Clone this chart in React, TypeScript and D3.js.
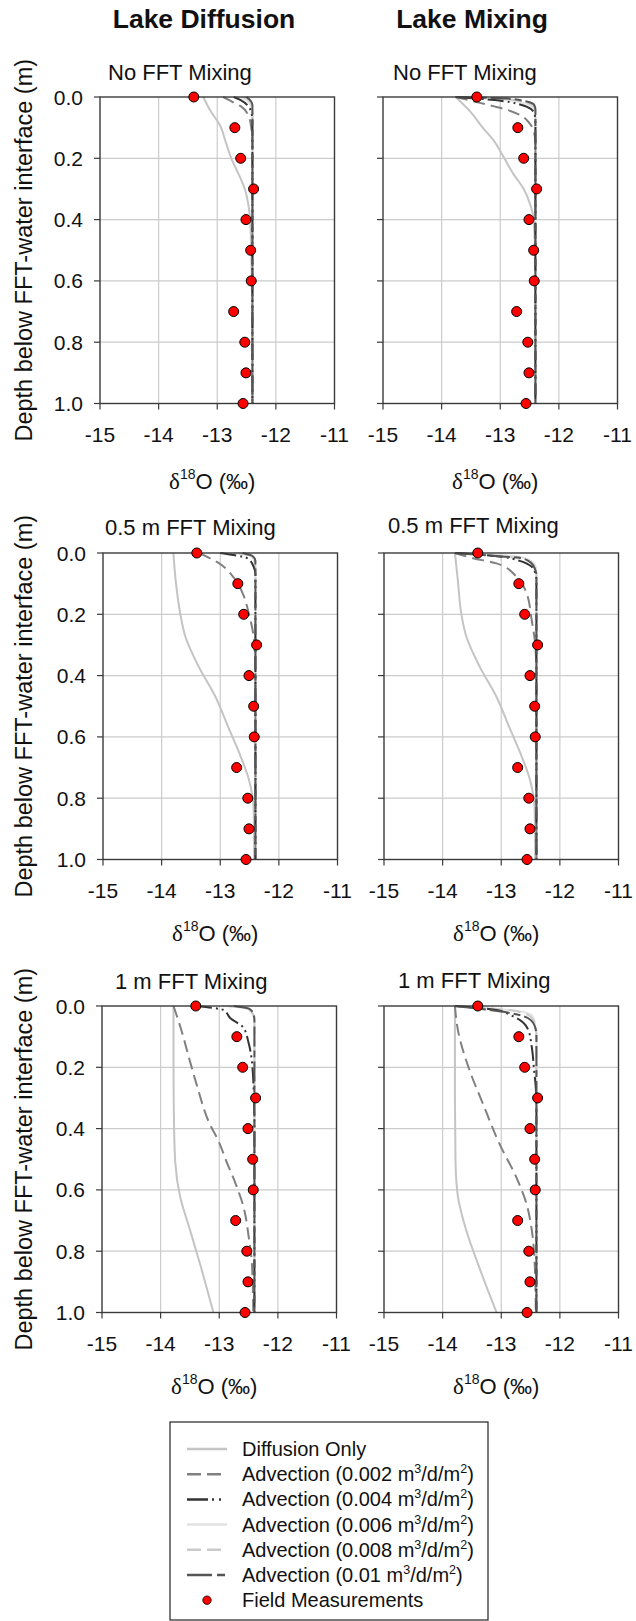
import React from 'react';
import * as d3 from 'd3';

type Pt = [number, number]; // [depth (m), δ18O (‰)]

// ---------- axis / text data ----------
const xTicks = [-15, -14, -13, -12, -11];
const yTicks = [0, 0.2, 0.4, 0.6, 0.8, 1.0];
const xGrid = [-14, -13, -12];
const yGrid = [0.2, 0.4, 0.6, 0.8];
const columnTitles = ['Lake Diffusion', 'Lake Mixing'];
const rowTitles = ['No FFT Mixing', '0.5 m FFT Mixing', '1 m FFT Mixing'];
const advectionRates = ['0.002', '0.004', '0.006', '0.008', '0.01'];

// ---------- field measurements ----------
const fieldDepth = [0, 0.1, 0.2, 0.3, 0.4, 0.5, 0.6, 0.7, 0.8, 0.9, 1.0];
const fieldO18 = [-13.4, -12.7, -12.6, -12.38, -12.51, -12.43, -12.42, -12.72, -12.53, -12.51, -12.56];

// ---------- model profiles: Lake Diffusion, No FFT Mixing ----------
const ldNo_diff: Pt[] = [[0, -13.24], [0.05, -13.1], [0.09, -12.96], [0.15, -12.85], [0.2, -12.76], [0.25, -12.64], [0.3, -12.53], [0.35, -12.47], [0.4, -12.44], [0.5, -12.42], [0.6, -12.41], [1, -12.4]];
const ldNo_a002: Pt[] = [[0, -12.9], [0.015, -12.75], [0.03, -12.6], [0.06, -12.47], [0.1, -12.42], [0.15, -12.4], [1, -12.4]];
const ldNo_a004: Pt[] = [[0, -12.72], [0.01, -12.6], [0.03, -12.47], [0.05, -12.42], [0.08, -12.4], [1, -12.4]];
const ldNo_a006: Pt[] = [[0, -12.6], [0.01, -12.5], [0.03, -12.42], [0.05, -12.4], [1, -12.4]];
const ldNo_a008: Pt[] = [[0, -12.55], [0.01, -12.46], [0.03, -12.41], [0.05, -12.4], [1, -12.4]];
const ldNo_a010: Pt[] = [[0, -12.5], [0.01, -12.44], [0.025, -12.4], [1, -12.4]];

// ---------- Lake Mixing, No FFT Mixing ----------
const lmNo_diff: Pt[] = [[0, -13.76], [0.05, -13.5], [0.1, -13.3], [0.14, -13.12], [0.2, -12.93], [0.25, -12.78], [0.3, -12.6], [0.35, -12.49], [0.4, -12.43], [0.5, -12.41], [1, -12.4]];
const lmNo_a002: Pt[] = [[0, -13.76], [0.02, -13.33], [0.042, -12.88], [0.06, -12.65], [0.086, -12.5], [0.11, -12.43], [0.15, -12.4], [1, -12.4]];
const lmNo_a004: Pt[] = [[0, -13.76], [0.01, -13.1], [0.025, -12.65], [0.04, -12.47], [0.06, -12.41], [0.08, -12.4], [1, -12.4]];
const lmNo_a006: Pt[] = [[0, -13.76], [0.008, -13.0], [0.02, -12.6], [0.035, -12.44], [0.05, -12.4], [1, -12.4]];
const lmNo_a008: Pt[] = [[0, -13.76], [0.006, -12.95], [0.018, -12.55], [0.03, -12.43], [0.045, -12.4], [1, -12.4]];
const lmNo_a010: Pt[] = [[0, -13.76], [0.005, -12.9], [0.015, -12.55], [0.026, -12.42], [0.04, -12.4], [1, -12.4]];

// ---------- Lake Diffusion, 0.5 m FFT Mixing ----------
const ld05_diff: Pt[] = [[0, -13.8], [0.09, -13.76], [0.2, -13.68], [0.27, -13.6], [0.37, -13.37], [0.47, -13.08], [0.57, -12.86], [0.65, -12.68], [0.74, -12.51], [0.84, -12.43], [1, -12.42]];
const ld05_a002: Pt[] = [[0, -13.35], [0.01, -13.25], [0.03, -13.05], [0.08, -12.77], [0.14, -12.6], [0.2, -12.51], [0.25, -12.45], [0.33, -12.41], [0.4, -12.4], [1, -12.4]];
const ld05_a004: Pt[] = [[0, -13.0], [0.017, -12.54], [0.045, -12.43], [0.07, -12.4], [1, -12.4]];
const ld05_a006: Pt[] = [[0, -12.77], [0.007, -12.5], [0.03, -12.41], [0.05, -12.4], [1, -12.4]];
const ld05_a008: Pt[] = [[0, -12.7], [0.01, -12.48], [0.03, -12.41], [0.05, -12.4], [1, -12.4]];
const ld05_a010: Pt[] = [[0, -12.62], [0.01, -12.45], [0.025, -12.4], [1, -12.4]];

// ---------- Lake Mixing, 0.5 m FFT Mixing ----------
const lm05_diff: Pt[] = [[0, -13.79], [0.09, -13.74], [0.2, -13.68], [0.27, -13.6], [0.37, -13.37], [0.47, -13.08], [0.57, -12.86], [0.65, -12.68], [0.74, -12.51], [0.84, -12.43], [1, -12.42]];
const lm05_a002: Pt[] = [[0, -13.79], [0.017, -13.48], [0.034, -13.08], [0.077, -12.74], [0.13, -12.57], [0.22, -12.48], [0.3, -12.42], [0.4, -12.4], [1, -12.4]];
const lm05_a004: Pt[] = [[0, -13.79], [0.012, -13.0], [0.025, -12.7], [0.045, -12.48], [0.065, -12.42], [0.09, -12.4], [1, -12.4]];
const lm05_a006: Pt[] = [[0, -13.79], [0.008, -12.9], [0.02, -12.55], [0.04, -12.42], [0.06, -12.4], [1, -12.4]];
const lm05_a008: Pt[] = [[0, -13.79], [0.01, -13.05], [0.02, -12.62], [0.036, -12.47], [0.055, -12.42], [0.07, -12.4], [1, -12.4]];
const lm05_a010: Pt[] = [[0, -13.79], [0.01, -13.1], [0.017, -12.65], [0.034, -12.48], [0.055, -12.42], [0.07, -12.4], [1, -12.4]];

// ---------- Lake Diffusion, 1 m FFT Mixing ----------
const ld1_diff: Pt[] = [[0, -13.78], [0.2, -13.78], [0.4, -13.77], [0.51, -13.75], [0.62, -13.67], [0.73, -13.5], [0.84, -13.33], [1, -13.1]];
const ld1_a002: Pt[] = [[0, -13.78], [0.07, -13.66], [0.18, -13.5], [0.26, -13.38], [0.39, -13.15], [0.43, -13.04], [0.52, -12.85], [0.58, -12.72], [0.66, -12.58], [0.75, -12.5], [0.85, -12.44], [1, -12.42]];
const ld1_a004: Pt[] = [[0, -13.4], [0.013, -12.93], [0.04, -12.81], [0.07, -12.59], [0.12, -12.5], [0.17, -12.45], [0.29, -12.41], [0.4, -12.4], [1, -12.4]];
const ld1_a006: Pt[] = [[0, -12.95], [0.005, -12.55], [0.02, -12.44], [0.04, -12.4], [1, -12.4]];
const ld1_a008: Pt[] = [[0, -12.85], [0.01, -12.5], [0.03, -12.42], [0.05, -12.4], [1, -12.4]];
const ld1_a010: Pt[] = [[0, -12.75], [0.01, -12.48], [0.03, -12.41], [0.05, -12.4], [1, -12.4]];

// ---------- Lake Mixing, 1 m FFT Mixing ----------
const lm1_diff: Pt[] = [[0, -13.79], [0.3, -13.79], [0.51, -13.78], [0.62, -13.74], [0.73, -13.6], [0.84, -13.4], [1, -13.08]];
const lm1_a002: Pt[] = [[0, -13.79], [0.078, -13.74], [0.21, -13.54], [0.32, -13.31], [0.45, -13.03], [0.56, -12.74], [0.645, -12.57], [0.73, -12.48], [0.84, -12.43], [1, -12.41]];
const lm1_a004: Pt[] = [[0, -13.79], [0.013, -13.08], [0.029, -12.85], [0.046, -12.68], [0.078, -12.54], [0.133, -12.48], [0.209, -12.44], [0.27, -12.41], [0.35, -12.4], [1, -12.4]];
const lm1_a006: Pt[] = [[0, -13.79], [0.019, -12.63], [0.035, -12.46], [0.068, -12.42], [0.1, -12.4], [1, -12.4]];
const lm1_a008: Pt[] = [[0, -13.79], [0.015, -12.8], [0.035, -12.5], [0.06, -12.42], [0.09, -12.4], [1, -12.4]];
const lm1_a010: Pt[] = [[0, -13.79], [0.019, -12.97], [0.04, -12.54], [0.07, -12.42], [0.1, -12.4], [1, -12.4]];

// panel grid: rows x columns
const panelSeries: Pt[][][][] = [
  [[ldNo_diff, ldNo_a002, ldNo_a004, ldNo_a006, ldNo_a008, ldNo_a010], [lmNo_diff, lmNo_a002, lmNo_a004, lmNo_a006, lmNo_a008, lmNo_a010]],
  [[ld05_diff, ld05_a002, ld05_a004, ld05_a006, ld05_a008, ld05_a010], [lm05_diff, lm05_a002, lm05_a004, lm05_a006, lm05_a008, lm05_a010]],
  [[ld1_diff, ld1_a002, ld1_a004, ld1_a006, ld1_a008, ld1_a010], [lm1_diff, lm1_a002, lm1_a004, lm1_a006, lm1_a008, lm1_a010]],
];

// ---------- styles (layout, not data) ----------
const SANS = 'Liberation Sans, Arial, Helvetica, sans-serif';
const SERIF = 'Liberation Serif, Times New Roman, serif';
const seriesStyles = [
  { stroke: '#c4c4c4', dash: '', legendDash: '' },
  { stroke: '#808080', dash: '12,6', legendDash: '14,6' },
  { stroke: '#333333', dash: '16,4,2,4,2,4', legendDash: '21,4,2,5,2,20' },
  { stroke: '#e2e2e2', dash: '', legendDash: '' },
  { stroke: '#cbcbcb', dash: '12,6', legendDash: '14,6' },
  { stroke: '#555555', dash: '20,4,7,4', legendDash: '25,5,8,5' },
];
const drawOrder = [0, 3, 4, 1, 2, 5];

const rowY = [97, 553, 1006];
const panelH = 306.5;
const panelW = 234.5;
const colX = [[100, 383], [103, 384], [102, 384]];
const subtitlePos = [
  [[108, 80], [393, 80]],
  [[105, 535], [388, 533]],
  [[115, 989], [398, 988]],
];
const xTitleDrop = [85, 81, 81];

function Panel({ row, col }: { row: number; col: number }) {
  const x0 = colX[row][col];
  const y0 = rowY[row];
  const xs = d3.scaleLinear().domain([-15, -11]).range([x0, x0 + panelW]);
  const ys = d3.scaleLinear().domain([0, 1]).range([y0, y0 + panelH]);
  const line = d3
    .line<Pt>()
    .x((d) => xs(d[1]))
    .y((d) => ys(d[0]))
    .curve(d3.curveMonotoneY);
  const clipId = `clip-${row}-${col}`;
  const series = panelSeries[row][col];
  const [sx, sy] = subtitlePos[row][col];
  return (
    <g>
      <defs>
        <clipPath id={clipId}>
          <rect x={x0} y={y0 - 1} width={panelW} height={panelH + 2} />
        </clipPath>
      </defs>
      <text x={sx} y={sy} fontFamily={SANS} fontSize={22} fill="#111">
        {rowTitles[row]}
      </text>
      {xGrid.map((v) => (
        <line key={'gx' + v} x1={xs(v)} x2={xs(v)} y1={y0} y2={y0 + panelH} stroke="#cccccc" strokeWidth={1.2} />
      ))}
      {yGrid.map((v) => (
        <line key={'gy' + v} x1={x0} x2={x0 + panelW} y1={ys(v)} y2={ys(v)} stroke="#cccccc" strokeWidth={1.2} />
      ))}
      <g clipPath={`url(#${clipId})`}>
        {drawOrder.map((i) => (
          <path
            key={'s' + i}
            d={line(series[i]) || ''}
            fill="none"
            stroke={seriesStyles[i].stroke}
            strokeWidth={2}
            strokeDasharray={seriesStyles[i].dash || undefined}
          />
        ))}
      </g>
      <rect x={x0} y={y0} width={panelW} height={panelH} fill="none" stroke="#3a3a3a" strokeWidth={1.4} />
      {xTicks.map((v) => (
        <g key={'xt' + v}>
          <line x1={xs(v)} x2={xs(v)} y1={y0 + panelH} y2={y0 + panelH + 6} stroke="#3a3a3a" strokeWidth={1.2} />
          <text x={xs(v)} y={y0 + panelH + 38} textAnchor="middle" fontFamily={SANS} fontSize={21} fill="#111">
            {v}
          </text>
        </g>
      ))}
      {yTicks.map((v) => (
        <g key={'yt' + v}>
          <line x1={x0 - 6} x2={x0} y1={ys(v)} y2={ys(v)} stroke="#3a3a3a" strokeWidth={1.2} />
          {col === 0 && (
            <text x={x0 - 17} y={ys(v) + 7.5} textAnchor="end" fontFamily={SANS} fontSize={21} fill="#111">
              {v.toFixed(1)}
            </text>
          )}
        </g>
      ))}
      {fieldDepth.map((d, i) => (
        <circle key={'f' + i} cx={xs(fieldO18[i])} cy={ys(d)} r={5} fill="#ff0000" stroke="#000" strokeWidth={1} />
      ))}
      {/* x-axis title */}
      <text x={x0 + panelW / 2 - 5} y={y0 + panelH + xTitleDrop[row]} textAnchor="middle" fill="#111">
        <tspan fontFamily={SERIF} fontSize={23}>δ</tspan>
        <tspan fontFamily={SANS} fontSize={14} dy={-10}>18</tspan>
        <tspan fontFamily={SANS} fontSize={22} dy={10}>O (‰)</tspan>
      </text>
      {/* y-axis title */}
      {col === 0 && (
        <text
          transform={`translate(32, ${y0 + panelH / 2}) rotate(-90)`}
          textAnchor="middle"
          fontFamily={SANS}
          fontSize={23.5}
          fill="#111"
        >
          Depth below FFT-water interface (m)
        </text>
      )}
    </g>
  );
}

function Legend() {
  const bx = 170;
  const by = 1422;
  const rowStep = 25.2;
  const firstY = 1449;
  const labels: React.ReactNode[] = [
    'Diffusion Only',
    ...advectionRates.map((r) => (
      <>
        {`Advection (${r} m`}
        <tspan fontSize={12.5} dy={-8}>3</tspan>
        <tspan dy={8}>/d/m</tspan>
        <tspan fontSize={12.5} dy={-8}>2</tspan>
        <tspan dy={8}>)</tspan>
      </>
    )),
    'Field Measurements',
  ];
  return (
    <g>
      <rect x={bx} y={by} width={318} height={198} fill="#fff" stroke="#222" strokeWidth={1.2} />
      {labels.map((lab, i) => {
        const cy = firstY + i * rowStep;
        return (
          <g key={'lg' + i}>
            {i < 6 ? (
              <line
                x1={187}
                x2={227}
                y1={cy}
                y2={cy}
                stroke={seriesStyles[i].stroke}
                strokeWidth={2.5}
                strokeDasharray={seriesStyles[i].legendDash || undefined}
              />
            ) : (
              <circle cx={207} cy={cy} r={4.2} fill="#ff0000" stroke="#000" strokeWidth={0.8} />
            )}
            <text x={242} y={cy + 7} fontFamily={SANS} fontSize={20} fill="#111">
              {lab}
            </text>
          </g>
        );
      })}
    </g>
  );
}

export default function App() {
  return (
    <svg
      width={636}
      height={1621}
      viewBox="0 0 636 1621"
      style={{ position: 'absolute', left: 0, top: 0, background: '#fff', display: 'block' }}
    >
      <rect x={0} y={0} width={636} height={1621} fill="#fff" />
      <text x={204} y={28} textAnchor="middle" fontFamily={SANS} fontWeight="bold" fontSize={26.5} fill="#111">
        {columnTitles[0]}
      </text>
      <text x={472} y={28} textAnchor="middle" fontFamily={SANS} fontWeight="bold" fontSize={26.5} fill="#111">
        {columnTitles[1]}
      </text>
      {[0, 1, 2].map((r) => (
        <g key={'r' + r}>
          <Panel row={r} col={0} />
          <Panel row={r} col={1} />
        </g>
      ))}
      <Legend />
    </svg>
  );
}
